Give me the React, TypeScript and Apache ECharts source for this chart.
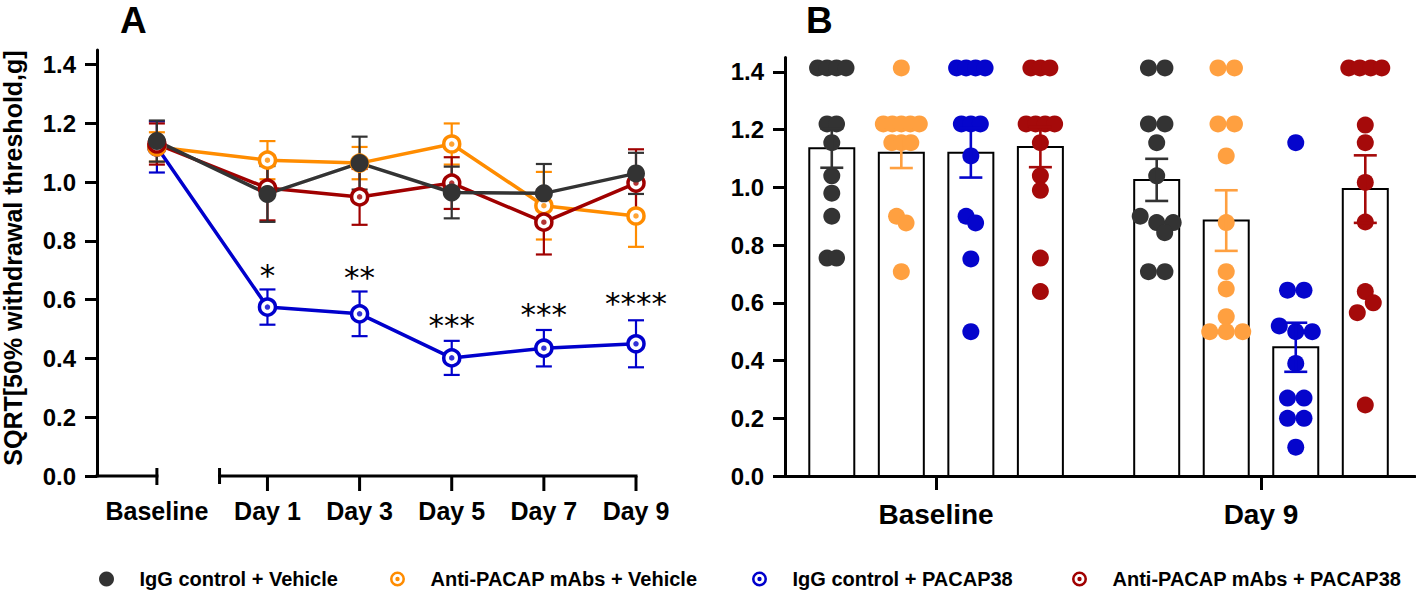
import React, { useEffect, useRef } from "react";
import * as echarts from "echarts";

// ---------------- shared ----------------
const groupNames = [
  "IgG control + Vehicle",
  "Anti-PACAP mAbs + Vehicle",
  "IgG control + PACAP38",
  "Anti-PACAP mAbs + PACAP38",
];
const lineColors = ["#333333", "#FF8C00", "#0000CC", "#A00000"];
const dotColors = ["#333333", "#FFA040", "#0505CC", "#A50A0A"];
const yTicks = [0, 0.2, 0.4, 0.6, 0.8, 1.0, 1.2, 1.4];
const yTitle = "SQRT[50% withdrawal threshold,g]";

// ---------------- panel A ----------------
const timeLabelsA = ["Baseline", "Day 1", "Day 3", "Day 5", "Day 7", "Day 9"];
const meanA_IgGVeh = [1.14, 0.96, 1.065, 0.965, 0.962, 1.03];
const semA_IgGVeh = [0.07, 0.095, 0.09, 0.088, 0.1, 0.07];
const meanA_AntiVeh = [1.12, 1.075, 1.065, 1.13, 0.92, 0.885];
const semA_AntiVeh = [0.05, 0.065, 0.055, 0.07, 0.115, 0.105];
const meanA_IgGPac = [1.12, 0.575, 0.552, 0.402, 0.435, 0.45];
const semA_IgGPac = [0.087, 0.06, 0.076, 0.058, 0.062, 0.08];
const meanA_AntiPac = [1.13, 0.98, 0.95, 0.997, 0.864, 0.997];
const semA_AntiPac = [0.07, 0.11, 0.095, 0.088, 0.11, 0.115];
const sigLabels = ["", "*", "**", "***", "***", "****"];
const sigY = [0, 0.708, 0.7, 0.538, 0.575, 0.613];

// ---------------- panel B ----------------
const timeLabelsB = ["Baseline", "Day 9"];
const meanB_Baseline = [1.136, 1.12, 1.12, 1.14];
const semB_Baseline = [0.068, 0.053, 0.086, 0.07];
const meanB_Day9 = [1.026, 0.885, 0.446, 0.994];
const semB_Day9 = [0.073, 0.105, 0.085, 0.117];
const ptsB_IgGVeh_Base = [1.414, 1.414, 1.414, 1.414, 1.22, 1.22, 1.155, 1.04, 0.98, 0.9, 0.755, 0.755];
const ptsB_AntiVeh_Base = [1.414, 1.22, 1.22, 1.22, 1.22, 1.22, 1.155, 1.155, 1.155, 0.9, 0.877, 0.708];
const ptsB_IgGPac_Base = [1.414, 1.414, 1.414, 1.414, 1.22, 1.22, 1.22, 1.109, 0.9, 0.877, 0.752, 0.5];
const ptsB_AntiPac_Base = [1.414, 1.414, 1.414, 1.22, 1.22, 1.22, 1.22, 1.155, 1.04, 0.99, 0.755, 0.639];
const ptsB_IgGVeh_Day9 = [1.414, 1.414, 1.22, 1.22, 1.155, 1.04, 0.9, 0.878, 0.878, 0.843, 0.708, 0.708];
const ptsB_AntiVeh_Day9 = [1.414, 1.414, 1.22, 1.22, 1.109, 0.878, 0.708, 0.648, 0.552, 0.5, 0.5, 0.5];
const ptsB_IgGPac_Day9 = [1.155, 0.644, 0.644, 0.52, 0.5, 0.5, 0.39, 0.27, 0.27, 0.2, 0.2, 0.1];
const ptsB_AntiPac_Day9 = [1.414, 1.414, 1.414, 1.414, 1.216, 1.155, 1.017, 0.88, 0.639, 0.6, 0.566, 0.246];

const meansA = [meanA_IgGVeh, meanA_AntiVeh, meanA_IgGPac, meanA_AntiPac];
const semsA = [semA_IgGVeh, semA_AntiVeh, semA_IgGPac, semA_AntiPac];
const meansB = [meanB_Baseline, meanB_Day9];
const semsB = [semB_Baseline, semB_Day9];
const pointsB = [
  [ptsB_IgGVeh_Base, ptsB_IgGVeh_Day9],
  [ptsB_AntiVeh_Base, ptsB_AntiVeh_Day9],
  [ptsB_IgGPac_Base, ptsB_IgGPac_Day9],
  [ptsB_AntiPac_Base, ptsB_AntiPac_Day9],
];

// ---------------- layout (not data) ----------------
const FONT = "'Liberation Sans', Arial, Helvetica, sans-serif";
const xPosA = [0, 1.2, 2.2, 3.2, 4.2, 5.2];
const xMinA = -0.65;
const xMaxA = 5.2;
const breakStartA = 0.68;
const xMinB = -0.465;
const xMaxB = 1.474;
const barOffsetB = [-0.321, -0.107, 0.107, 0.321];
const swarmStep = [9.5, 16.5];
const swarmSpan = [36, 33];
const swarmMinDist = [9.5, 16];
const legendIconX = [107, 398, 760, 1080];
const ringIcon =
  "path://M10,0A10,10,0,1,1,10,20A10,10,0,1,1,10,0ZM10,3.4A6.6,6.6,0,1,0,10,16.6A6.6,6.6,0,1,0,10,3.4ZM10,7.1A2.9,2.9,0,1,1,10,12.9A2.9,2.9,0,1,1,10,7.1Z";

function swarm(ys: number[], cx: number, step: number, maxSpan: number, minDist: number) {
  const n = ys.length;
  const order = ys.map((_, i) => i).sort((a, b) => ys[a] - ys[b]);
  const rows: number[][] = [];
  for (const i of order) {
    const last = rows[rows.length - 1];
    if (last && Math.abs(ys[i] - ys[last[0]]) < 8) last.push(i);
    else rows.push([i]);
  }
  const xs = new Array(n).fill(cx);
  const placed: number[] = [];
  for (const r of rows) {
    if (r.length > 1) {
      const st = Math.min(step, maxSpan / (r.length - 1));
      r.forEach((i, k) => {
        xs[i] = cx + (k - (r.length - 1) / 2) * st;
        placed.push(i);
      });
    }
  }
  for (const r of rows) {
    if (r.length === 1) {
      const i = r[0];
      const cands = [0];
      for (let k = 1; k < 8; k++) cands.push((k * minDist) / 2, (-k * minDist) / 2);
      for (const c of cands) {
        const x = cx + c;
        if (placed.every((j) => Math.hypot(xs[j] - x, ys[j] - ys[i]) >= minDist * 0.8)) {
          xs[i] = x;
          break;
        }
      }
      placed.push(i);
    }
  }
  return xs;
}

function buildOption(): any {
  const series: any[] = [];
  const drawOrder = [2, 1, 3, 0];

  // Panel A error bars
  drawOrder.forEach((g) => {
    series.push({
      type: "custom",
      name: "errA" + g,
      xAxisIndex: 0,
      yAxisIndex: 0,
      z: 2,
      clip: false,
      silent: true,
      encode: { x: 0, y: [1, 2] },
      data: xPosA.map((x, i) => [x, meansA[g][i] - semsA[g][i], meansA[g][i] + semsA[g][i]]),
      renderItem: (params: any, api: any) => {
        const lo = api.coord([api.value(0), api.value(1)]);
        const hi = api.coord([api.value(0), api.value(2)]);
        const st = { stroke: lineColors[g], lineWidth: 2.2 };
        return {
          type: "group",
          children: [
            { type: "line", shape: { x1: lo[0], y1: lo[1], x2: hi[0], y2: hi[1] }, style: st },
            { type: "line", shape: { x1: lo[0] - 8, y1: lo[1], x2: lo[0] + 8, y2: lo[1] }, style: st },
            { type: "line", shape: { x1: hi[0] - 8, y1: hi[1], x2: hi[0] + 8, y2: hi[1] }, style: st },
          ],
        };
      },
    });
  });

  // Panel A lines
  drawOrder.forEach((g) => {
    const hollow = g !== 0;
    const data = xPosA.map((x, i) => [x, meansA[g][i]]);
    series.push({
      type: "line",
      name: groupNames[g],
      xAxisIndex: 0,
      yAxisIndex: 0,
      z: 3,
      data,
      symbol: "circle",
      symbolSize: hollow ? 16 : 18,
      lineStyle: { color: lineColors[g], width: 3.5 },
      itemStyle: hollow
        ? { color: "#ffffff", borderColor: lineColors[g], borderWidth: 3.5 }
        : { color: lineColors[g] },
    });
    if (hollow) {
      series.push({
        type: "scatter",
        name: "dotA" + g,
        xAxisIndex: 0,
        yAxisIndex: 0,
        z: 3,
        data,
        symbolSize: 5.5,
        itemStyle: { color: lineColors[g] },
      });
    }
  });

  // Panel A significance marks
  series.push({
    type: "custom",
    name: "sigA",
    xAxisIndex: 0,
    yAxisIndex: 0,
    z: 4,
    clip: false,
    silent: true,
    data: xPosA.map((x, i) => [x, sigY[i]]),
    renderItem: (params: any, api: any) => {
      const p = api.coord([api.value(0), api.value(1)]);
      return {
        type: "text",
        x: p[0],
        y: p[1] + 7,
        style: {
          text: sigLabels[params.dataIndex],
          fontSize: 31,
          fontFamily: "'DejaVu Sans', sans-serif",
          fill: "#000",
          align: "center",
          verticalAlign: "middle",
        },
      };
    },
  });

  // Panel A broken x axis: segments
  series.push({
    type: "custom",
    name: "axisSegA",
    xAxisIndex: 0,
    yAxisIndex: 0,
    z: 5,
    clip: false,
    silent: true,
    data: [
      [xMinA, xPosA[0], 0],
      [breakStartA, xMaxA, 1],
    ],
    renderItem: (params: any, api: any) => {
      const a = api.coord([api.value(0), 0]);
      const b = api.coord([api.value(1), 0]);
      const st = { stroke: "#000", lineWidth: 3 };
      const children: any[] = [
        { type: "line", shape: { x1: a[0] - 1.5, y1: a[1], x2: b[0] + 1.5, y2: b[1] }, style: st },
      ];
      if (api.value(2) === 1) {
        children.push({ type: "line", shape: { x1: a[0], y1: a[1] - 8, x2: a[0], y2: a[1] + 8 }, style: st });
      }
      return { type: "group", children };
    },
  });

  // Panel A ticks + labels
  series.push({
    type: "custom",
    name: "axisTickA",
    xAxisIndex: 0,
    yAxisIndex: 0,
    z: 5,
    clip: false,
    silent: true,
    data: xPosA.map((x) => [x, 0]),
    renderItem: (params: any, api: any) => {
      const p = api.coord([api.value(0), 0]);
      const first = params.dataIndex === 0;
      const st = { stroke: "#000", lineWidth: 3 };
      return {
        type: "group",
        children: [
          {
            type: "line",
            shape: { x1: p[0], y1: first ? p[1] - 8 : p[1], x2: p[0], y2: p[1] + (first ? 9 : 15) },
            style: st,
          },
          {
            type: "text",
            x: p[0],
            y: p[1] + 35,
            style: {
              text: timeLabelsA[params.dataIndex],
              fontSize: 25,
              fontWeight: "bold",
              fontFamily: FONT,
              fill: "#000",
              align: "center",
              verticalAlign: "middle",
            },
          },
        ],
      };
    },
  });

  // Panel B bars, dots, error bars
  [0, 1, 2, 3].forEach((g) => {
    series.push({
      type: "custom",
      name: "B" + g,
      xAxisIndex: 1,
      yAxisIndex: 1,
      z: 3,
      clip: false,
      silent: true,
      encode: { x: 0, y: 1 },
      data: [0, 1].map((t) => [t, meansB[t][g], semsB[t][g]]),
      renderItem: (params: any, api: any) => {
        const t = api.value(0);
        const m = api.value(1);
        const s = api.value(2);
        const xv = t + barOffsetB[g];
        const base = api.coord([xv, 0]);
        const top = api.coord([xv, m]);
        const hi = api.coord([xv, m + s]);
        const lo = api.coord([xv, m - s]);
        const cx = base[0];
        const pts = pointsB[g][t];
        const ys = pts.map((v: number) => api.coord([xv, v])[1]);
        const xs = swarm(ys, cx, swarmStep[t], swarmSpan[t], swarmMinDist[t]);
        const children: any[] = [
          {
            type: "rect",
            shape: { x: cx - 22.5, y: top[1], width: 45, height: base[1] - top[1] },
            style: { fill: "rgba(255,255,255,0)", stroke: "#000", lineWidth: 2 },
          },
        ];
        ys.forEach((y: number, i: number) => {
          children.push({
            type: "circle",
            shape: { cx: xs[i], cy: y, r: 8.5 },
            style: { fill: dotColors[g] },
          });
        });
        const st = { stroke: dotColors[g], lineWidth: 2.6 };
        children.push(
          { type: "line", shape: { x1: cx, y1: hi[1], x2: cx, y2: lo[1] }, style: st },
          { type: "line", shape: { x1: cx - 11.5, y1: hi[1], x2: cx + 11.5, y2: hi[1] }, style: st },
          { type: "line", shape: { x1: cx - 11.5, y1: lo[1], x2: cx + 11.5, y2: lo[1] }, style: st }
        );
        return { type: "group", children };
      },
    });
  });

  const yAxisCommon = {
    type: "value",
    min: 0,
    max: 1.45,
    axisLine: { show: true, onZero: false, lineStyle: { color: "#000", width: 3 } },
    axisTick: { show: true, length: 12, lineStyle: { color: "#000", width: 3 }, customValues: yTicks },
    axisLabel: {
      customValues: yTicks,
      formatter: (v: number) => v.toFixed(1),
      fontSize: 24,
      fontWeight: "bold",
      fontFamily: FONT,
      color: "#000",
      margin: 21,
    },
    splitLine: { show: false },
  };

  return {
    animation: false,
    backgroundColor: "#ffffff",
    textStyle: { fontFamily: FONT },
    grid: [
      { left: 97, top: 50, width: 539, height: 426, outerBoundsMode: "none", containLabel: false },
      { left: 785, top: 57.5, width: 630, height: 418.5, outerBoundsMode: "none", containLabel: false },
    ],
    xAxis: [
      { type: "value", gridIndex: 0, min: xMinA, max: xMaxA, show: false },
      {
        type: "value",
        gridIndex: 1,
        min: xMinB,
        max: xMaxB,
        axisLine: { show: true, onZero: false, lineStyle: { color: "#000", width: 3 } },
        axisTick: { show: true, length: 14, lineStyle: { color: "#000", width: 3 }, customValues: [0, 1] },
        axisLabel: {
          customValues: [0, 1],
          formatter: (v: number) => timeLabelsB[Math.round(v)],
          fontSize: 28,
          fontWeight: "bold",
          fontFamily: FONT,
          color: "#000",
          margin: 24,
        },
        splitLine: { show: false },
      },
    ],
    yAxis: [
      { ...yAxisCommon, gridIndex: 0 },
      { ...yAxisCommon, gridIndex: 1 },
    ],
    legend: groupNames.map((n, i) => ({
      data: [
        {
          name: n,
          icon: i === 0 ? "circle" : ringIcon,
          itemStyle: { color: lineColors[i], borderWidth: 0, borderColor: "transparent" },
        },
      ],
      left: legendIconX[i] - 13,
      top: 564,
      itemWidth: 56,
      itemHeight: 15,
      selectedMode: false,
      textStyle: { fontSize: 20, fontWeight: "bold", fontFamily: FONT, color: "#000" },
    })),
    graphic: [
      {
        type: "text",
        left: 120,
        top: 2,
        style: { text: "A", fontSize: 37, fontWeight: "bold", fontFamily: FONT, fill: "#000" },
      },
      {
        type: "text",
        left: 806,
        top: 2,
        style: { text: "B", fontSize: 37, fontWeight: "bold", fontFamily: FONT, fill: "#000" },
      },
      {
        type: "text",
        x: 13,
        y: 258,
        rotation: Math.PI / 2,
        style: {
          text: yTitle,
          fontSize: 25,
          fontWeight: "bold",
          fontFamily: FONT,
          fill: "#000",
          align: "center",
          verticalAlign: "middle",
        },
      },
    ],
    series,
  };
}

export default function App() {
  const ref = useRef<HTMLDivElement>(null);
  useEffect(() => {
    if (!ref.current) return;
    const chart = echarts.init(ref.current, null, { renderer: "svg" });
    chart.setOption(buildOption());
    return () => chart.dispose();
  }, []);
  return (
    <div
      ref={ref}
      style={{ position: "absolute", left: 0, top: 0, width: 1416, height: 606, background: "#fff" }}
    />
  );
}
